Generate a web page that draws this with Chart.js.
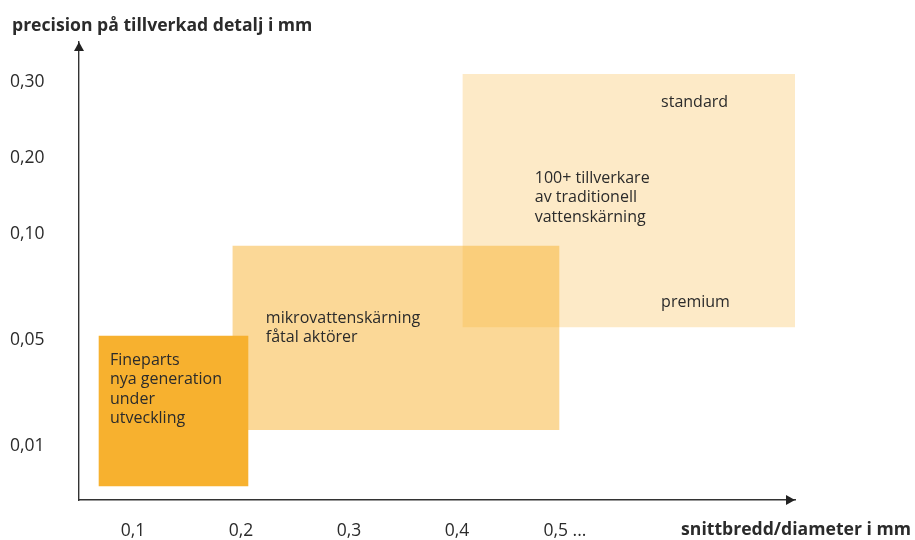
<!DOCTYPE html>
<html>
<head>
<meta charset="utf-8">
<script src="https://cdn.jsdelivr.net/npm/chart.js@4/dist/chart.umd.min.js"></script>
<style>
  html, body { margin: 0; padding: 0; background: #fff; }
  #wrap { width: 915px; height: 540px; }
</style>
</head>
<body>
<div id="wrap"><canvas id="precisionChart"></canvas></div>
<script>
// x axis: cut width / diameter in mm
const xTickValues = [0.1, 0.2, 0.3, 0.4, 0.5];
const xTickLabels = ["0,1", "0,2", "0,3", "0,4", "0,5 ..."];

// y axis is schematic (not linear in mm), so it runs on "levels"
const yTickLevels = [1, 2, 3, 3.72, 4.43];
const yTickLabels = ["0,01", "0,05", "0,10", "0,20", "0,30"];

// areas: x range in mm, y range (bottom, top) in levels
const areaNames = ["Fineparts", "mikrovattenskärning", "traditionell vattenskärning"];
const areaX = [[0.068, 0.207], [0.192, 0.495], [0.405, 0.713]];
const areaY = [[0.62, 2.04], [1.15, 2.89], [2.12, 4.51]];
const areaText = [
  ["Fineparts", "nya generation", "under", "utveckling"],
  ["mikrovattenskärning", "fåtal aktörer"],
  ["100+ tillverkare", "av traditionell", "vattenskärning"],
];

const FONT = "'Open Sans', 'Noto Sans', sans-serif";
const TEXT_COLOR = "#2b2b2b";
const AXIS_COLOR = "#333";

/* ------------------------------- */
/* LABELS AND ARROWS */
/* ------------------------------- */

// where each text block starts (data coords, first baseline)
const textAnchors = [
  { x: 0.0787, y: 1.764, lines: areaText[0] },
  { x: 0.223, y: 2.16, lines: areaText[1] },
  { x: 0.472, y: 3.48, lines: areaText[2] },
  { x: 0.589, y: 4.198, lines: ["standard"] },
  { x: 0.589, y: 2.311, lines: ["premium"] },
];

const annotationPlugin = {
  id: "annotations",
  afterDatasetsDraw(chart) {
    const ctx = chart.ctx;
    const xs = chart.scales.x;
    const ys = chart.scales.y;

    ctx.save();
    ctx.fillStyle = TEXT_COLOR;
    ctx.font = "16px " + FONT;
    ctx.textAlign = "left";
    ctx.textBaseline = "alphabetic";

    textAnchors.forEach(function (a) {
      const px = xs.getPixelForValue(a.x);
      const py = ys.getPixelForValue(a.y);
      a.lines.forEach(function (line, i) {
        ctx.fillText(line, px, py + i * 19.4);
      });
    });
    ctx.restore();
  },
  afterDraw(chart) {
    const ctx = chart.ctx;
    const area = chart.chartArea;

    ctx.save();
    ctx.fillStyle = "#222";

    // arrow on y axis
    ctx.beginPath();
    ctx.moveTo(area.left, area.top);
    ctx.lineTo(area.left - 5, area.top + 9);
    ctx.lineTo(area.left + 5, area.top + 9);
    ctx.closePath();
    ctx.fill();

    // arrow on x axis
    ctx.beginPath();
    ctx.moveTo(area.right, area.bottom);
    ctx.lineTo(area.right - 9, area.bottom - 5);
    ctx.lineTo(area.right - 9, area.bottom + 5);
    ctx.closePath();
    ctx.fill();

    // axis titles
    ctx.fillStyle = TEXT_COLOR;
    ctx.font = "bold 17.6px " + FONT;
    ctx.textBaseline = "alphabetic";
    ctx.textAlign = "left";
    ctx.fillText("precision på tillverkad detalj i mm", 12, 31);
    ctx.textAlign = "right";
    ctx.fillText("snittbredd/diameter i mm", 911, 535);
    ctx.restore();
  },
};

/* ------------------------------- */
/* CHART */
/* ------------------------------- */

function initializePrecisionChart() {
  const canvas = document.getElementById("precisionChart");

  if (!canvas) return;

  const ctx = canvas.getContext("2d");
  const colors = ["rgb(247,177,47)", "rgba(247,177,47,0.5)", "rgba(247,177,47,0.27)"];

  new Chart(ctx, {
    type: "line",

    data: {
      datasets: areaNames.map(function (name, i) {
        return {
          label: name,
          data: [
            { x: areaX[i][0], y: areaY[i][1] },
            { x: areaX[i][1], y: areaY[i][1] },
          ],
          fill: { value: areaY[i][0] },
          backgroundColor: colors[i],
          borderWidth: 0,
          pointRadius: 0,
          tension: 0,
        };
      }),
    },

    options: {
      responsive: true,
      maintainAspectRatio: false,
      animation: false,

      layout: {
        padding: { left: 10, right: 120, top: 42, bottom: 0 },
      },

      plugins: {
        legend: { display: false },
        tooltip: { enabled: false },
      },

      scales: {
        x: {
          type: "linear",
          min: 0.05,
          max: 0.713,
          afterBuildTicks: function (scale) {
            scale.ticks = xTickValues.map(function (v) { return { value: v }; });
          },
          afterFit: function (scale) {
            scale.height = 40;
          },
          grid: { display: false, drawTicks: false },
          border: { display: true, color: AXIS_COLOR, width: 1.4 },
          ticks: {
            callback: function (value, index) { return xTickLabels[index]; },
            font: { family: FONT, size: 17.5 },
            color: TEXT_COLOR,
            padding: 21,
            maxRotation: 0,
            autoSkip: false,
          },
        },
        y: {
          type: "linear",
          min: 0.4906,
          max: 4.811,
          afterBuildTicks: function (scale) {
            scale.ticks = yTickLevels.map(function (v) { return { value: v }; });
          },
          afterFit: function (scale) {
            scale.width = 69;
          },
          grid: { display: false, drawTicks: false },
          border: { display: true, color: AXIS_COLOR, width: 1.4 },
          ticks: {
            callback: function (value, index) { return yTickLabels[index]; },
            font: { family: FONT, size: 17.5 },
            color: TEXT_COLOR,
            crossAlign: "far",
            autoSkip: false,
          },
        },
      },
    },

    plugins: [annotationPlugin],
  });
}

document.addEventListener("DOMContentLoaded", function () {
  Promise.all([
    document.fonts.load("16px 'Open Sans'"),
    document.fonts.load("bold 16px 'Open Sans'"),
  ]).finally(initializePrecisionChart);
});
</script>
</body>
</html>
